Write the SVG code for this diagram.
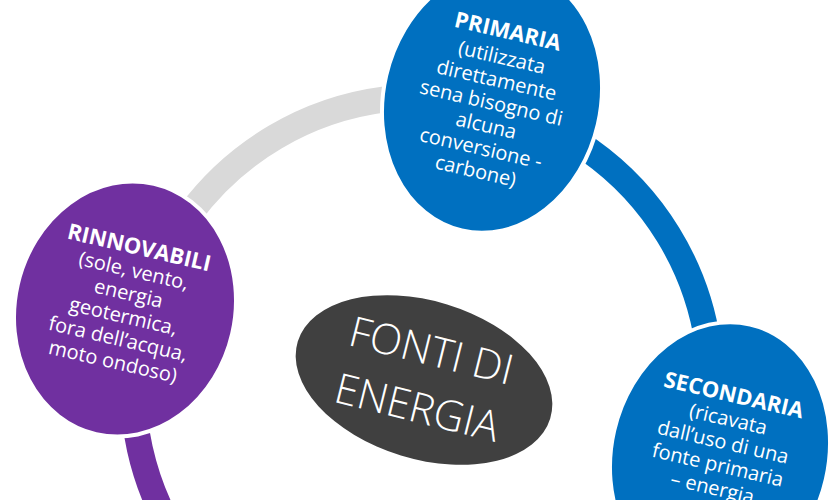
<svg xmlns="http://www.w3.org/2000/svg" width="840" height="500" viewBox="0 0 840 500">
<style>
.t{font-family:"Open Sans","Noto Sans","Liberation Sans",sans-serif;fill:#ffffff;text-anchor:middle}
.h{font-size:22px;font-weight:700}
.b{font-size:20px;font-weight:400}
.c{font-size:42px;font-weight:300}
.node{stroke:#ffffff;stroke-width:4}
.arc{fill:none;stroke-width:26}
</style>
<rect width="840" height="500" fill="#ffffff"/>
<g id="connectors">
<path class="arc" stroke="#D9D9D9" d="M 142.8 311.2 A 289 289 0 0 1 491.9 105.6"/>
<path class="arc" stroke="#0070C0" d="M 491.9 105.6 A 289 289 0 0 1 703.6 451"/>
<path class="arc" stroke="#7030A0" d="M 200.6 571.8 A 289 289 0 0 1 142.8 311.2"/>
</g>
<g id="node-primaria" transform="translate(492,100) rotate(13)">
<ellipse class="node" rx="108.6" ry="134" fill="#0070C0"/>
<text class="t h" x="0" y="-63">PRIMARIA</text>
<text class="t b"><tspan x="0" y="-37">(utilizzata</tspan><tspan x="0" y="-13.7">direttamente</tspan><tspan x="0" y="9.6">sena bisogno di</tspan><tspan x="0" y="32.9">alcuna</tspan><tspan x="0" y="56.2">conversione -</tspan><tspan x="0" y="79.5">carbone)</tspan></text>
</g>
<g id="node-rinnovabili" transform="translate(125,309) rotate(13)">
<ellipse class="node" rx="110" ry="128.4" fill="#7030A0"/>
<text class="t h" x="0" y="-55.6">RINNOVABILI</text>
<text class="t b"><tspan x="0" y="-32.5">(sole, vento,</tspan><tspan x="0" y="-9.2">energia</tspan><tspan x="0" y="14.1">geotermica,</tspan><tspan x="0" y="37.4">fora dell’acqua,</tspan><tspan x="0" y="60.7">moto ondoso)</tspan></text>
</g>
<g id="node-secondaria" transform="translate(720,455) rotate(13)">
<ellipse class="node" rx="108.6" ry="134" fill="#0070C0"/>
<text class="t h" x="0" y="-54">SECONDARIA</text>
<text class="t b"><tspan x="0" y="-30">(ricavata</tspan><tspan x="0" y="-6.5">dall’uso di una</tspan><tspan x="0" y="17">fonte primaria</tspan><tspan x="0" y="40.5">– energia</tspan></text>
</g>
<g id="node-fonti" transform="translate(424,380)">
<ellipse rx="132" ry="79" fill="#404040" transform="rotate(17)"/>
<g transform="rotate(14)">
<text class="t c" x="0" y="-15.6">FONTI DI</text>
<text class="t c" x="0" y="43">ENERGIA</text>
</g>
</g>
</svg>
